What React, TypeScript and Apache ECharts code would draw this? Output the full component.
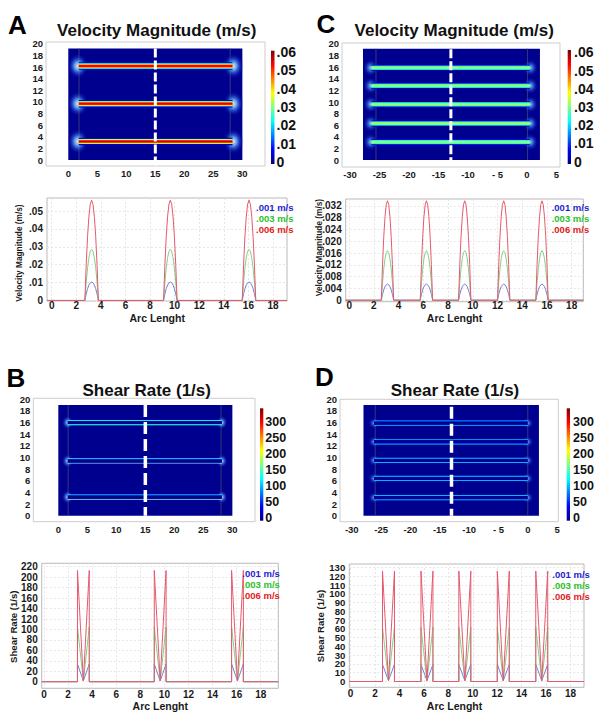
import React, { useEffect, useRef } from "react";
import * as echarts from "echarts";

const FONT = "'Liberation Sans', Arial, Helvetica, sans-serif";
const BG_BLUE = "#00008f";

// ---------------- shared ticks ----------------
const mapYTicks = [0, 2, 4, 6, 8, 10, 12, 14, 16, 18, 20];
const mapXTicksAB = [0, 5, 10, 15, 20, 25, 30];
const mapXTicksCD = [-30, -25, -20, -15, -10, -5, 0, 5];
const arcTicks = [0, 2, 4, 6, 8, 10, 12, 14, 16, 18];
const velBarTicks = [0, 0.01, 0.02, 0.03, 0.04, 0.05, 0.06];
const shearBarTicks = [0, 50, 100, 150, 200, 250, 300];
const velBarRange = [-0.0011, 0.0607];
const shearBarRange = [-7.5, 341.6];
const legendLabels = [".001 m/s", ".003 m/s", ".006 m/s"];

// ---------------- panel A: velocity map (3 channels) ----------------
const mapA_domain = [0, 30, 0, 19.2];
const mapA_channelY = [3.2, 9.7, 16.2];
const mapA_channelX = [1.8, 28.3];
const mapA_walls = [1.85, 27.9];
const mapA_cut = [15, 19.2, -1.0];
// velocity along the cut line (A)
const lineA_yTicks = [0, 0.01, 0.02, 0.03, 0.04, 0.05];
const lineA_centers = [3.25, 9.65, 16.05];
const lineA_offsets = [-0.55, -0.44, -0.33, -0.22, -0.11, 0, 0.11, 0.22, 0.33, 0.44, 0.55];
const velA_001 = [0, 0.0037, 0.0066, 0.0087, 0.0099, 0.0103, 0.0099, 0.0087, 0.0066, 0.0037, 0];
const velA_003 = [0, 0.0103, 0.0183, 0.024, 0.0275, 0.0286, 0.0275, 0.024, 0.0183, 0.0103, 0];
const velA_006 = [0, 0.0202, 0.0359, 0.0471, 0.0539, 0.0561, 0.0539, 0.0471, 0.0359, 0.0202, 0];

// ---------------- panel C: velocity map (5 channels) ----------------
const mapC_domain = [-27.8, 2.2, 0, 19.2];
const mapC_channelY = [3.1, 6.3, 9.6, 12.8, 15.9];
const mapC_channelX = [-26.4, 0.5];
const mapC_walls = [-25.6, 0.1];
const mapC_cut = [-12.9, 19.1, -1.0];
const lineC_yTicks = [0, 0.004, 0.008, 0.012, 0.016, 0.02, 0.024, 0.028, 0.032];
const lineC_centers = [3.1, 6.25, 9.35, 12.5, 15.6];
const lineC_offsets = [-0.5, -0.4, -0.3, -0.2, -0.1, 0, 0.1, 0.2, 0.3, 0.4, 0.5];
const velC_001 = [0, 0.002, 0.0035, 0.0046, 0.0052, 0.0055, 0.0052, 0.0046, 0.0035, 0.002, 0];
const velC_003 = [0, 0.006, 0.0107, 0.0141, 0.0161, 0.0168, 0.0161, 0.0141, 0.0107, 0.006, 0];
const velC_006 = [0, 0.0121, 0.0216, 0.0283, 0.0324, 0.0337, 0.0324, 0.0283, 0.0216, 0.0121, 0];

// ---------------- panel B: shear map (3 channels) ----------------
const mapB_domain = [0, 30, 0, 19.0];
const mapB_channelY = [3.2, 9.4, 16.0];
const mapB_channelX = [1.6, 28.2];
const mapB_walls = [1.7, 28.05];
const mapB_cut = [15, 19.0, 0];
// shear across one channel as seen in map B (top wall -> bottom wall)
const mapB_bandOffsets = [-0.45, -0.34, -0.22, 0, 0.22, 0.34, 0.45];
const mapB_bandValues = [150, 120, 8, 0, 8, 125, 195];
const lineB_yTicks = [0, 20, 40, 60, 80, 100, 120, 140, 160, 180, 200, 220];
const lineB_centers = [3.27, 9.65, 16.07];
const shear_offsets = [-0.49, -0.49, 0, 0.49, 0.49];
const shearB_001 = [0, 34, 1.5, 34, 0];
const shearB_003 = [0, 105, 1.5, 105, 0];
const shearB_006 = [0, 213, 1.5, 213, 0];

// ---------------- panel D: shear map (5 channels) ----------------
const mapD_domain = [-28, 1.9, 0, 19.0];
const mapD_channelY = [3.1, 6.4, 9.5, 12.7, 15.9];
const mapD_channelX = [-26.2, 0.0];
const mapD_walls = [-26, 0];
const mapD_cut = [-13, 18.7, 0];
const mapD_bandOffsets = [-0.45, -0.34, -0.22, 0, 0.22, 0.34, 0.45];
const mapD_bandValues = [115, 100, 6, 0, 6, 100, 120];
const lineD_yTicks = [0, 10, 20, 30, 40, 50, 60, 70, 80, 90, 100, 110, 120, 130];
const lineD_centers = [3.1, 6.25, 9.35, 12.5, 15.65];
const shearD_001 = [0, 19.5, 1, 19.5, 0];
const shearD_003 = [0, 62, 1, 62, 0];
const shearD_006 = [0, 126, 1, 126, 0];

// ---------------- helpers ----------------
function jet(t: number): string {
  const x = Math.max(0, Math.min(1, t));
  const c = (v: number) => Math.round(255 * Math.max(0, Math.min(1, v)));
  const r = c(1.5 - Math.abs(4 * x - 3));
  const g = c(1.5 - Math.abs(4 * x - 2));
  const b = c(1.5 - Math.abs(4 * x - 1));
  return `rgb(${r},${g},${b})`;
}

function interp(xs: number[], ys: number[], x: number): number {
  for (let i = 0; i < xs.length - 1; i++) {
    const a = xs[i], b = xs[i + 1];
    if (b > a && x >= a && x <= b) return ys[i] + ((ys[i + 1] - ys[i]) * (x - a)) / (b - a);
  }
  return 0;
}

function bandStops(offsets: number[], values: number[], half: number, vmax: number) {
  const n = 36;
  const stops: any[] = [];
  for (let i = 0; i <= n; i++) {
    const o = half - (2 * half * i) / n;
    stops.push({ offset: i / n, color: jet(interp(offsets, values, -o) / vmax) });
  }
  return stops;
}

function barStops() {
  const stops: any[] = [];
  for (let i = 0; i <= 16; i++) stops.push({ offset: i / 16, color: jet(i / 16) });
  return stops;
}

function profileLine(centers: number[], offsets: number[], values: number[], x0: number, x1: number) {
  const pts: number[][] = [[x0, 0]];
  centers.forEach((c) => offsets.forEach((o, i) => pts.push([+(c + o).toFixed(3), values[i]])));
  pts.push([x1, 0]);
  return pts;
}

const lab = (size: number, color = "#1a1a1a") => ({
  fontFamily: FONT,
  fontWeight: "bold" as const,
  fontSize: size,
  color,
});

function txt(text: string, x: number, y: number, size: number, color = "#111", align = "left", rotation = 0) {
  return {
    type: "text",
    x,
    y,
    rotation,
    silent: true,
    z: 100,
    style: {
      text,
      fill: color,
      font: `bold ${size}px ${FONT}`,
      align,
      verticalAlign: "middle",
      textAlign: align,
      textVerticalAlign: "middle",
    },
  };
}

function buildOption() {
  const grids: any[] = [];
  const xAxes: any[] = [];
  const yAxes: any[] = [];
  const series: any[] = [];
  const graphics: any[] = [];

  const addMap = (cfg: any) => {
    const gi = grids.length;
    const xi = xAxes.length;
    const yi = yAxes.length;
    const [left, top, width, height] = cfg.rect;
    grids.push({ left, top, width, height, show: true, borderColor: "#cdcdcd", borderWidth: 1, backgroundColor: "transparent" });
    xAxes.push({
      gridIndex: gi, type: "value", min: cfg.xRange[0], max: cfg.xRange[1],
      axisLine: { show: false }, axisTick: { show: false, customValues: cfg.xTicks }, splitLine: { show: false },
      axisLabel: { customValues: cfg.xTicks, formatter: cfg.xFmt, margin: cfg.xMargin, showMinLabel: true, showMaxLabel: true, ...lab(9.5) },
    });
    yAxes.push({
      gridIndex: gi, type: "value", min: cfg.yRange[0], max: cfg.yRange[1],
      axisLine: { show: false }, axisTick: { show: false, customValues: mapYTicks }, splitLine: { show: false },
      axisLabel: { customValues: mapYTicks, margin: 3, showMinLabel: true, showMaxLabel: true, lineHeight: 10, ...lab(9.5) },
    });
    const ax = { xAxisIndex: xi, yAxisIndex: yi, silent: true, clip: true };
    // domain background
    series.push({
      type: "custom", ...ax, z: 1, data: [cfg.domain],
      renderItem: (_p: any, api: any) => {
        const a = api.coord([api.value(0), api.value(3)]);
        const b = api.coord([api.value(1), api.value(2)]);
        return { type: "rect", shape: { x: a[0], y: a[1], width: b[0] - a[0], height: b[1] - a[1] }, style: { fill: BG_BLUE } };
      },
    });
    // inner boundary lines
    series.push({
      type: "custom", ...ax, z: 2, data: cfg.walls.map((x: number) => [x, cfg.domain[2], cfg.domain[3]]),
      renderItem: (_p: any, api: any) => {
        const a = api.coord([api.value(0), api.value(1)]);
        const b = api.coord([api.value(0), api.value(2)]);
        return { type: "line", shape: { x1: a[0], y1: a[1], x2: b[0], y2: b[1] }, style: { stroke: "rgba(70,70,110,0.8)", lineWidth: 1 } };
      },
    });
    // glow at channel ends
    const g = cfg.glow;
    series.push({
      type: "custom", ...ax, z: 3,
      data: cfg.channelY.flatMap((y: number) => [[cfg.channelX[0] - g.shift, y], [cfg.channelX[1] + g.shift, y]]),
      renderItem: (_p: any, api: any) => {
        const c = api.coord([api.value(0), api.value(1)]);
        const s = api.size([g.rx, g.ry]);
        return {
          type: "ellipse",
          shape: { cx: c[0], cy: c[1], rx: s[0], ry: s[1] },
          style: { fill: new echarts.graphic.RadialGradient(0.5, 0.5, 0.5, g.stops) },
        };
      },
    });
    // channels
    const stops = bandStops(cfg.offsets, cfg.values, cfg.bandHalf, cfg.vmax);
    series.push({
      type: "custom", ...ax, z: 4,
      data: cfg.channelY.map((y: number) => [cfg.channelX[0], cfg.channelX[1], y]),
      renderItem: (_p: any, api: any) => {
        const a = api.coord([api.value(0), api.value(2) + cfg.bandHalf]);
        const b = api.coord([api.value(1), api.value(2) - cfg.bandHalf]);
        return {
          type: "rect",
          shape: { x: a[0], y: a[1], width: b[0] - a[0], height: b[1] - a[1] },
          style: { fill: new echarts.graphic.LinearGradient(0, 0, 0, 1, stops) },
        };
      },
    });
    // white dashed cut line
    series.push({
      type: "line", xAxisIndex: xi, yAxisIndex: yi, silent: true, z: 6, symbol: "none", animation: false,
      data: [[cfg.cut[0], cfg.cut[1]], [cfg.cut[0], cfg.cut[2]]],
      lineStyle: { color: "#ffffff", width: cfg.dashWidth, type: cfg.dash, cap: "butt" },
    });
  };

  const addBar = (cfg: any) => {
    const gi = grids.length;
    const xi = xAxes.length;
    const yi = yAxes.length;
    const [left, top, width, height] = cfg.rect;
    grids.push({ left, top, width, height, show: false });
    xAxes.push({ gridIndex: gi, type: "value", min: 0, max: 1, show: false });
    yAxes.push({
      gridIndex: gi, type: "value", position: "right", min: cfg.range[0], max: cfg.range[1],
      axisLine: { show: false }, axisTick: { show: false, customValues: cfg.ticks }, splitLine: { show: false },
      axisLabel: { customValues: cfg.ticks, formatter: cfg.fmt, margin: cfg.margin, showMinLabel: true, showMaxLabel: true, ...lab(cfg.fontSize, "#111") },
    });
    series.push({
      type: "custom", xAxisIndex: xi, yAxisIndex: yi, silent: true, z: 2,
      data: [[0, cfg.range[0], 1, cfg.range[1]]],
      renderItem: (_p: any, api: any) => {
        const a = api.coord([api.value(0), api.value(3)]);
        const b = api.coord([api.value(2), api.value(1)]);
        return {
          type: "rect",
          shape: { x: a[0], y: a[1], width: b[0] - a[0], height: b[1] - a[1] },
          style: { fill: new echarts.graphic.LinearGradient(0, 1, 0, 0, barStops()) },
        };
      },
    });
  };

  const lineColors = ["#7b7bdc", "#86cf86", "#e6596e"];
  const legendColors = ["#1f1fd0", "#2cbf2c", "#e02222"];

  const addLine = (cfg: any) => {
    const gi = grids.length;
    const xi = xAxes.length;
    const yi = yAxes.length;
    const [left, top, width, height] = cfg.rect;
    grids.push({ left, top, width, height, show: true, borderColor: "#b9b9b9", borderWidth: 1, backgroundColor: "#fff" });
    const split = { show: true, lineStyle: { color: "#e6e6e6", width: 1, type: [2, 2] } };
    xAxes.push({
      gridIndex: gi, type: "value", min: cfg.xRange[0], max: cfg.xRange[1],
      axisLine: { show: false }, axisTick: { show: false, customValues: arcTicks },
      splitLine: { ...split, customValues: arcTicks },
      axisLabel: { customValues: arcTicks, margin: cfg.xMargin, showMinLabel: true, showMaxLabel: true, lineHeight: 10, ...lab(10) },
    });
    // dense tick lists are split over two stacked left axes so that none is dropped
    const tickSets: number[][] = cfg.splitTicks
      ? [cfg.yTicks.filter((_v: number, i: number) => i % 2 === 0), cfg.yTicks.filter((_v: number, i: number) => i % 2 === 1)]
      : [cfg.yTicks];
    tickSets.forEach((ticks) => {
      yAxes.push({
        gridIndex: gi, type: "value", position: "left", offset: 0, min: cfg.yRange[0], max: cfg.yRange[1],
        axisLine: { show: false }, axisTick: { show: false, customValues: ticks },
        splitLine: { ...split, customValues: ticks },
        axisLabel: { customValues: ticks, formatter: cfg.yFmt, margin: 4, showMinLabel: true, showMaxLabel: true, lineHeight: 10, ...lab(cfg.yFont || 10) },
      });
    });
    cfg.values.forEach((vals: number[], k: number) => {
      series.push({
        type: "line", xAxisIndex: xi, yAxisIndex: yi, silent: true, symbol: "none", showSymbol: false,
        clip: true, z: 3 + k,
        data: profileLine(cfg.centers, cfg.offsets, vals, cfg.xRange[0], cfg.xRange[1]),
        lineStyle: { color: lineColors[k], width: 1 },
      });
    });
    legendLabels.forEach((t, k) => graphics.push(txt(t, cfg.legendX, cfg.legendY[k], 9.5, legendColors[k])));
    graphics.push(txt("Arc Lenght", cfg.xName[0], cfg.xName[1], 10.5, "#1a1a1a", "center"));
    graphics.push(txt(cfg.yName, cfg.yNamePos[0], cfg.yNamePos[1], cfg.yNameSize, "#1a1a1a", "center", Math.PI / 2));
  };

  const fmtDash = (v: number) => (v === -5 ? "- 5" : String(v));
  const fmtDec = (d: number) => (v: number) => (v === 0 ? "0" : v.toFixed(d).replace(/^0/, ""));

  const glowA = { rx: 1.8, ry: 2.2, shift: 0.15, stops: [
    { offset: 0, color: "rgba(225,245,255,0.95)" }, { offset: 0.3, color: "rgba(140,205,255,0.8)" },
    { offset: 0.65, color: "rgba(40,100,240,0.4)" }, { offset: 1, color: "rgba(0,0,143,0)" }] };
  const glowC = { rx: 1.3, ry: 1.5, shift: 0.1, stops: [
    { offset: 0, color: "rgba(170,225,255,0.9)" }, { offset: 0.4, color: "rgba(70,150,255,0.55)" },
    { offset: 1, color: "rgba(0,0,143,0)" }] };
  const glowB = { rx: 1.0, ry: 1.2, shift: 0.0, stops: [
    { offset: 0, color: "rgba(200,235,255,0.95)" }, { offset: 0.45, color: "rgba(80,150,255,0.55)" },
    { offset: 1, color: "rgba(0,0,143,0)" }] };
  const glowD = { rx: 1.0, ry: 1.0, shift: 0.0, stops: [
    { offset: 0, color: "rgba(130,195,255,0.85)" }, { offset: 0.5, color: "rgba(50,110,255,0.4)" },
    { offset: 1, color: "rgba(0,0,143,0)" }] };

  // ---- A ----
  addMap({
    rect: [46, 42, 219, 124], xRange: [-3.84, 33.9], yRange: [-1.03, 20.34], xTicks: mapXTicksAB, xFmt: fmtDash, xMargin: 2,
    domain: mapA_domain, channelY: mapA_channelY, channelX: mapA_channelX, walls: mapA_walls, cut: mapA_cut,
    dash: [9, 3], dashWidth: 3, bandHalf: 0.66, offsets: lineA_offsets, values: velA_006, vmax: velBarRange[1], glow: glowA,
  });
  addBar({ rect: [271, 50.7, 3.5, 113.3], range: velBarRange, ticks: velBarTicks, fmt: fmtDec(2), margin: 2, fontSize: 14 });
  addLine({
    rect: [47, 198, 240, 103], xRange: [-0.38, 19.14], yRange: [-0.0003, 0.0573], yTicks: lineA_yTicks, yFmt: fmtDec(2),
    xMargin: -1, centers: lineA_centers, offsets: lineA_offsets, values: [velA_001, velA_003, velA_006],
    legendX: 256, legendY: [207.7, 218, 229], xName: [157.2, 317.5], yName: "Velocity Magnitude (m/s)", yNamePos: [19, 253], yNameSize: 8.3,
  });

  // ---- C ----
  addMap({
    rect: [342, 43, 218, 124], xRange: [-31.36, 5.6], yRange: [-1.2, 20.17], xTicks: mapXTicksCD, xFmt: fmtDash, xMargin: 2,
    domain: mapC_domain, channelY: mapC_channelY, channelX: mapC_channelX, walls: mapC_walls, cut: mapC_cut,
    dash: [9, 3], dashWidth: 3, bandHalf: 0.52, offsets: lineC_offsets, values: velC_006, vmax: velBarRange[1], glow: glowC,
  });
  addBar({ rect: [567.7, 50, 3.3, 114], range: [-0.00126, 0.0613], ticks: velBarTicks, fmt: fmtDec(2), margin: 3, fontSize: 14 });
  addLine({
    rect: [345.7, 199, 237.6, 102.7], xRange: [-0.28, 18.94], yRange: [-0.0005, 0.0343], yTicks: lineC_yTicks, yFmt: fmtDec(3),
    xMargin: -1, centers: lineC_centers, offsets: lineC_offsets, values: [velC_001, velC_003, velC_006],
    legendX: 551.7, legendY: [207.7, 218.3, 229.3], xName: [454.5, 317.5], yName: "Velocity Magnitude (m/s)", yNamePos: [318.8, 247.5], yNameSize: 8.3,
  });

  // ---- B ----
  addMap({
    rect: [33.3, 398.3, 221.7, 123.4], xRange: [-4.31, 33.9], yRange: [-1.03, 20.17], xTicks: mapXTicksAB, xFmt: fmtDash, xMargin: 3,
    domain: mapB_domain, channelY: mapB_channelY, channelX: mapB_channelX, walls: mapB_walls, cut: mapB_cut,
    dash: [12, 5], dashWidth: 3.5, bandHalf: 0.45, offsets: mapB_bandOffsets, values: mapB_bandValues, vmax: shearBarRange[1], glow: glowB,
  });
  addBar({ rect: [260, 408.3, 3.3, 112.4], range: shearBarRange, ticks: shearBarTicks, fmt: (v: number) => String(v), margin: 2, fontSize: 12.5 });
  addLine({
    rect: [41.7, 563.3, 236.6, 125], xRange: [-0.19, 19.46], yRange: [-12.6, 226.6], yTicks: lineB_yTicks, yFmt: (v: number) => String(v),
    xMargin: 1, centers: lineB_centers, offsets: shear_offsets, values: [shearB_001, shearB_003, shearB_006],
    legendX: 242.3, legendY: [573.3, 584.3, 595.3], xName: [160.3, 705.5], yName: "Shear Rate (1/s)", yNamePos: [13, 626.7], yNameSize: 9.6,
  });

  // ---- D ----
  addMap({
    rect: [340, 399.3, 218.3, 122.4], xRange: [-32.0, 5.2], yRange: [-1.03, 20.0], xTicks: mapXTicksCD, xFmt: fmtDash, xMargin: 3,
    domain: mapD_domain, channelY: mapD_channelY, channelX: mapD_channelX, walls: mapD_walls, cut: mapD_cut,
    dash: [12, 5], dashWidth: 3.5, bandHalf: 0.45, offsets: mapD_bandOffsets, values: mapD_bandValues, vmax: shearBarRange[1], glow: glowD,
  });
  addBar({ rect: [566.7, 408.3, 3.3, 112.4], range: shearBarRange, ticks: shearBarTicks, fmt: (v: number) => String(v), margin: 3, fontSize: 12.5 });
  addLine({
    rect: [349.3, 564, 234.7, 123.3], xRange: [-0.11, 19.11], yRange: [-6.6, 134], yTicks: lineD_yTicks, yFmt: (v: number) => String(v),
    yFont: 9.6, splitTicks: true,
    xMargin: 1, centers: lineD_centers, offsets: shear_offsets, values: [shearD_001, shearD_003, shearD_006],
    legendX: 552.3, legendY: [574.3, 585, 596], xName: [454.5, 705.5], yName: "Shear Rate (1/s)", yNamePos: [320.5, 626], yNameSize: 9.6,
  });

  // titles & panel letters
  graphics.push(txt("Velocity Magnitude (m/s)", 156.7, 30, 17, "#111", "center"));
  graphics.push(txt("Velocity Magnitude (m/s)", 454.2, 30, 17, "#111", "center"));
  graphics.push(txt("Shear Rate (1/s)", 146.7, 390, 17, "#111", "center"));
  graphics.push(txt("Shear Rate (1/s)", 455, 390, 17, "#111", "center"));
  graphics.push(txt("A", 8, 24.5, 26, "#000"));
  graphics.push(txt("C", 316.5, 23.5, 26, "#000"));
  graphics.push(txt("B", 6.5, 377.5, 26, "#000"));
  graphics.push(txt("D", 315, 376.5, 26, "#000"));

  return {
    animation: false,
    backgroundColor: "#ffffff",
    textStyle: { fontFamily: FONT },
    grid: grids,
    xAxis: xAxes,
    yAxis: yAxes,
    series,
    graphic: graphics,
  };
}

export default function App() {
  const ref = useRef<HTMLDivElement>(null);
  useEffect(() => {
    const chart = echarts.init(ref.current!, null, { renderer: "svg" });
    chart.setOption(buildOption() as any);
    return () => chart.dispose();
  }, []);
  return (
    <div
      ref={ref}
      style={{ position: "absolute", left: 0, top: 0, width: 604, height: 719, background: "#fff" }}
    />
  );
}
